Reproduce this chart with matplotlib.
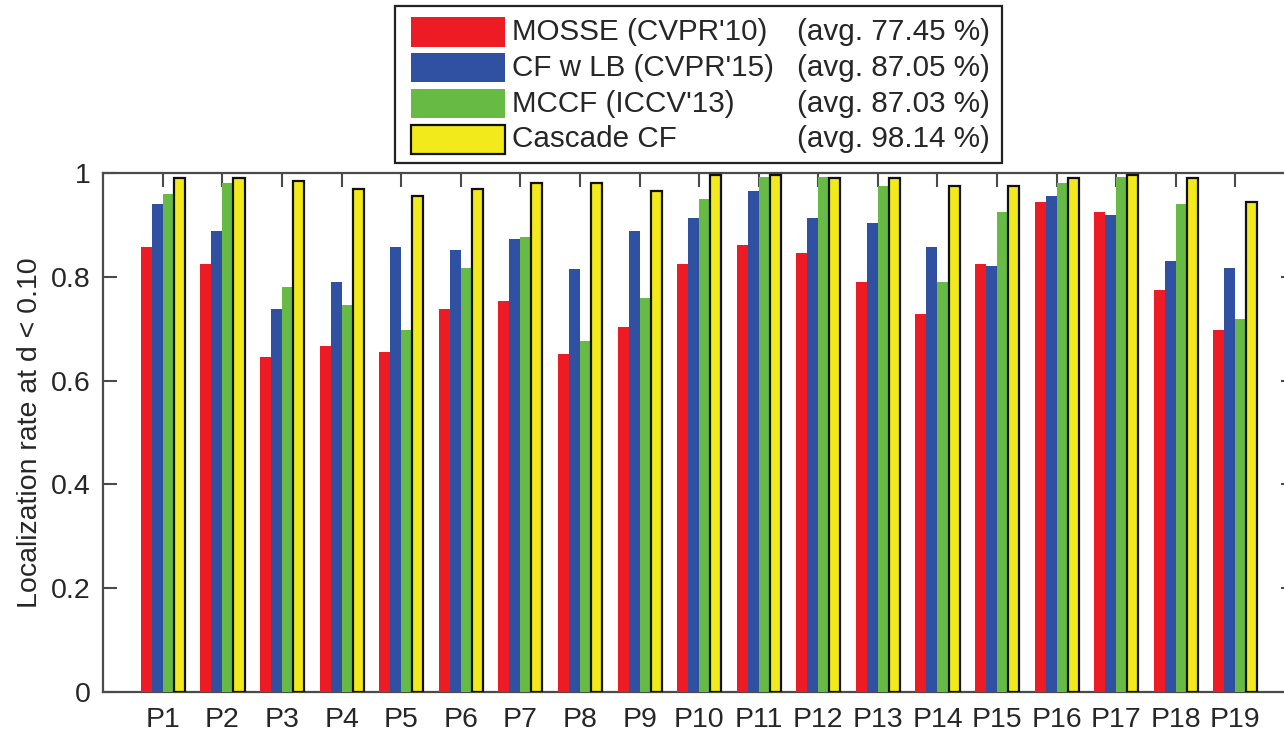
import matplotlib.pyplot as plt
import numpy as np
from matplotlib.patches import Rectangle

plt.rcParams['font.family'] = ['Liberation Sans', 'DejaVu Sans']

# localization rate at d < 0.10 for each person P1..P19
persons = ['P%d' % i for i in range(1, 20)]
mosse = [0.857, 0.826, 0.645, 0.667, 0.656, 0.738, 0.754, 0.651, 0.703, 0.826,
         0.862, 0.847, 0.790, 0.729, 0.826, 0.945, 0.925, 0.775, 0.698]
cf_lb = [0.941, 0.889, 0.738, 0.790, 0.857, 0.852, 0.873, 0.816, 0.889, 0.914,
         0.966, 0.914, 0.904, 0.857, 0.821, 0.956, 0.920, 0.831, 0.817]
mccf = [0.961, 0.981, 0.780, 0.745, 0.697, 0.817, 0.878, 0.677, 0.759, 0.950,
        0.992, 0.992, 0.976, 0.790, 0.925, 0.981, 0.992, 0.940, 0.718]
cascade = [0.991, 0.991, 0.986, 0.970, 0.956, 0.970, 0.981, 0.981, 0.966, 0.997,
           0.997, 0.991, 0.991, 0.976, 0.976, 0.991, 0.997, 0.991, 0.945]

names = ["MOSSE (CVPR'10)", "CF w LB (CVPR'15)", "MCCF (ICCV'13)", "Cascade CF"]
avgs = ['(avg. 77.45 %)', '(avg. 87.05 %)', '(avg. 87.03 %)', '(avg. 98.14 %)']
colors = ['#ED1C24', '#3050A2', '#67BB45', '#F2EA1A']

W, H = 1284, 737
fig = plt.figure(figsize=(W / 100, H / 100), dpi=100)
# right edge of the box runs a little past the figure edge
ax = fig.add_axes([103.3 / W, (H - 691.7) / H, (1295 - 103.3) / W, (691.7 - 173.3) / H])

x = np.arange(1, 20)
bw = 0.185
series = [mosse, cf_lb, mccf, cascade]
for i, (vals, c) in enumerate(zip(series, colors)):
    if i == 3:
        ax.bar(x + (i - 1.5) * bw, vals, bw, color=c, edgecolor='#111111', linewidth=1.6, zorder=3)
    else:
        ax.bar(x + (i - 1.5) * bw, vals, bw, color=c, edgecolor='none', zorder=3)

ax.set_xlim(0, 20)
ax.set_ylim(0, 1)
ax.set_xticks(x)
ax.set_xticklabels(persons)
ax.set_yticks([0, 0.2, 0.4, 0.6, 0.8, 1])
ax.set_yticklabels(['0', '0.2', '0.4', '0.6', '0.8', '1'])
ax.tick_params(direction='in', length=10, width=1.5, color='#4a4a4a', labelsize=20.5,
               labelcolor='#262626', top=True, right=True)
ax.tick_params(axis='x', pad=11)
ax.tick_params(axis='y', pad=9)
for sp in ax.spines.values():
    sp.set_color('#4a4a4a')
    sp.set_linewidth(1.6)
ax.set_ylabel('Localization rate at d < 0.10', fontsize=20.5, color='#262626', labelpad=6)


def fx(px):
    return px / W


def fy(py):
    return 1 - py / H


# legend box drawn in figure pixels
fig.patches.append(Rectangle((fx(394.7), fy(163)), fx(1002) - fx(394.7), fy(6) - fy(163),
                             transform=fig.transFigure, facecolor='white',
                             edgecolor='#222222', linewidth=1.6, zorder=5))
for k in range(4):
    yc = 32 + k * 35.8
    fig.patches.append(Rectangle((fx(410.5), fy(yc + 14.5)), fx(504.6) - fx(410.5), 29 / H,
                                 transform=fig.transFigure, facecolor=colors[k],
                                 edgecolor='#111111' if k == 3 else 'none',
                                 linewidth=1.6, zorder=6))
    fig.text(fx(512.5), fy(yc), names[k], fontsize=21.3, color='#262626',
             ha='left', va='center', zorder=7)
    fig.text(fx(797), fy(yc), avgs[k], fontsize=21.3, color='#262626',
             ha='left', va='center', zorder=7)

fig.savefig('out.png', dpi=100)
